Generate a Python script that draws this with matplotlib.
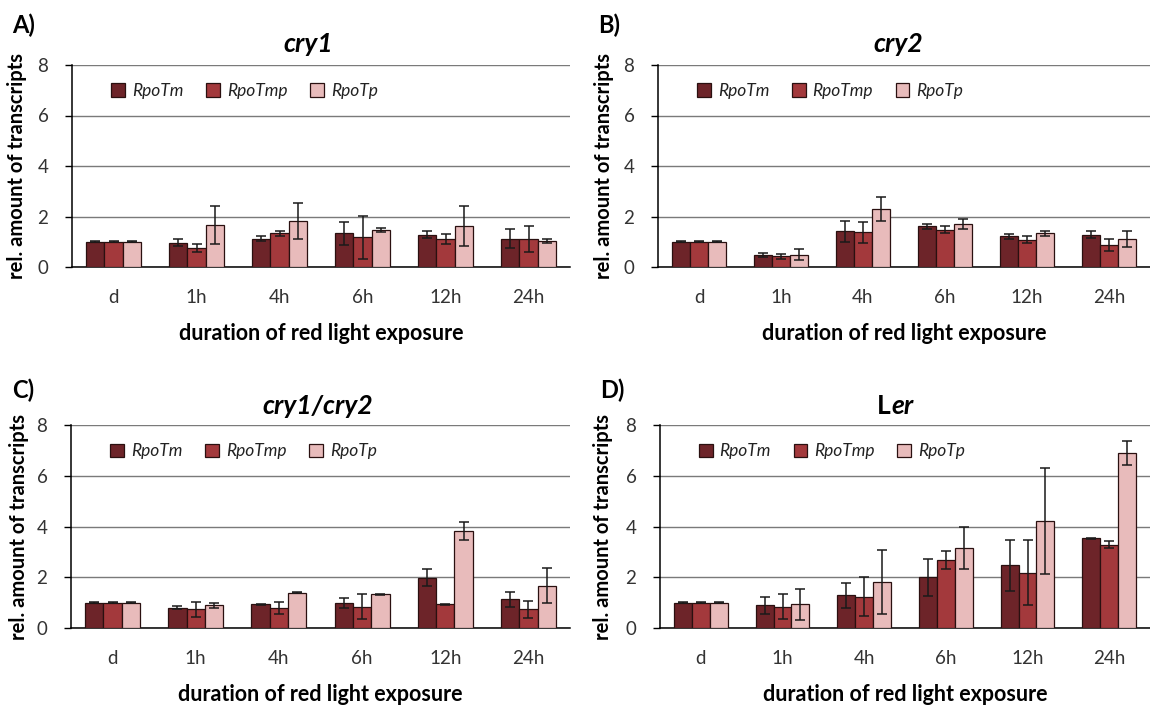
import numpy as np
import matplotlib.pyplot as plt

plt.rcParams['font.family'] = ['Lato', 'DejaVu Sans']

# categories and series
times = ['d', '1h', '4h', '6h', '12h', '24h']
series = ['RpoTm', 'RpoTmp', 'RpoTp']
colors = ['#6D2429', '#A3393C', '#E8BBBB']

# A) cry1
cry1_mean = [[1.0, 0.97, 1.12, 1.33, 1.28, 1.12],
             [1.0, 0.74, 1.33, 1.17, 1.12, 1.12],
             [1.0, 1.67, 1.82, 1.47, 1.62, 1.03]]
cry1_err = [[0.02, 0.15, 0.10, 0.45, 0.14, 0.37],
            [0.02, 0.16, 0.10, 0.86, 0.20, 0.52],
            [0.02, 0.74, 0.73, 0.09, 0.80, 0.07]]

# B) cry2
cry2_mean = [[1.0, 0.49, 1.42, 1.62, 1.22, 1.28],
             [1.0, 0.43, 1.37, 1.47, 1.08, 0.87],
             [1.0, 0.49, 2.30, 1.72, 1.33, 1.12]]
cry2_err = [[0.02, 0.08, 0.42, 0.10, 0.10, 0.15],
            [0.02, 0.10, 0.42, 0.14, 0.14, 0.22],
            [0.02, 0.23, 0.49, 0.20, 0.10, 0.32]]

# C) cry1/cry2
dbl_mean = [[1.0, 0.80, 0.93, 0.98, 1.98, 1.13],
            [1.0, 0.73, 0.79, 0.84, 0.94, 0.73],
            [1.0, 0.89, 1.38, 1.33, 3.83, 1.67]]
dbl_err = [[0.02, 0.07, 0.02, 0.20, 0.33, 0.30],
           [0.02, 0.30, 0.25, 0.50, 0.02, 0.35],
           [0.02, 0.10, 0.02, 0.02, 0.35, 0.70]]

# D) Ler
ler_mean = [[1.0, 0.89, 1.29, 2.00, 2.47, 3.53],
            [1.0, 0.84, 1.23, 2.69, 2.18, 3.29],
            [1.0, 0.93, 1.82, 3.15, 4.21, 6.89]]
ler_err = [[0.02, 0.35, 0.50, 0.72, 1.00, 0.02],
           [0.02, 0.50, 0.77, 0.36, 1.29, 0.15],
           [0.02, 0.60, 1.27, 0.82, 2.10, 0.48]]

W, H = 1150, 709
fig = plt.figure(figsize=(W / 100, H / 100), dpi=100)


def px_axes(left, top, right, bottom):
    return fig.add_axes([left / W, 1 - bottom / H, (right - left) / W, (bottom - top) / H])


def draw_panel(ax, means, errs, ylab_x):
    x = np.arange(len(times))
    bw = 0.22
    for i, (m, e) in enumerate(zip(means, errs)):
        ax.bar(x + (i - 1) * bw, m, bw, color=colors[i], edgecolor='#2a1010',
               linewidth=0.9, label=series[i], zorder=3)
        ax.errorbar(x + (i - 1) * bw, m, yerr=e, fmt='none', ecolor='#1a1a1a',
                    elinewidth=1.1, capsize=3.5, capthick=1.1, zorder=4)
    ax.set_xlim(-0.5, len(times) - 0.5)
    ax.set_ylim(0, 8)
    ax.set_yticks([0, 2, 4, 6, 8])
    ax.set_xticks(x)
    ax.set_xticklabels(times, fontsize=13.5, color='#333333')
    ax.tick_params(axis='x', length=0, pad=16)
    ax.tick_params(axis='y', length=5, width=1, labelsize=13.5, pad=12, labelcolor='#333333')
    ax.grid(axis='y', color='#7a7a7a', linewidth=1, zorder=0)
    ax.set_axisbelow(True)
    for s in ['top', 'right']:
        ax.spines[s].set_visible(False)
    ax.spines['left'].set_linewidth(1.1)
    ax.spines['bottom'].set_linewidth(1.1)
    ax.set_xlabel('duration of red light exposure', fontsize=15.5, fontweight='bold', labelpad=12)
    ax.set_ylabel('rel. amount of transcripts', fontsize=14.5, fontweight='bold')
    # y label position in figure pixels
    bb = ax.get_position()
    ax.yaxis.set_label_coords((ylab_x / W - bb.x0) / bb.width, 0.5)
    leg = ax.legend(loc='center left', bbox_to_anchor=(0.065, 0.871), ncol=3, frameon=False,
                    prop={'style': 'italic', 'size': 12.5}, handlelength=0.8, handleheight=0.8,
                    handletextpad=0.4, columnspacing=1.3, borderaxespad=0)
    for t in leg.get_texts():
        t.set_color('#222222')


axA = px_axes(72, 65, 570, 267)
axB = px_axes(658, 65, 1150, 267)
axC = px_axes(71, 425, 570, 628)
axD = px_axes(660, 425, 1150, 628)

draw_panel(axA, cry1_mean, cry1_err, 27)
draw_panel(axB, cry2_mean, cry2_err, 614)
draw_panel(axC, dbl_mean, dbl_err, 29)
draw_panel(axD, ler_mean, ler_err, 613)

# titles
tkw = dict(fontsize=19, fontweight='bold', ha='center', va='center')
fig.text(308 / W, 1 - 44 / H, 'cry1', style='italic', **tkw)
fig.text(898 / W, 1 - 44 / H, 'cry2', style='italic', **tkw)
fig.text(318 / W, 1 - 406 / H, 'cry1/cry2', style='italic', **tkw)
fig.text(891 / W, 1 - 406 / H, 'L', fontsize=19, fontweight='bold', ha='right', va='center')
fig.text(891 / W, 1 - 406 / H, 'er', fontsize=19, fontweight='bold', style='italic',
         ha='left', va='center')

# panel letters
lkw = dict(fontsize=17, fontweight='bold', ha='left', va='center')
fig.text(12 / W, 1 - 25 / H, 'A)', **lkw)
fig.text(598 / W, 1 - 25 / H, 'B)', **lkw)
fig.text(12 / W, 1 - 390 / H, 'C)', **lkw)
fig.text(600 / W, 1 - 390 / H, 'D)', **lkw)

fig.savefig('out.png', dpi=100)
